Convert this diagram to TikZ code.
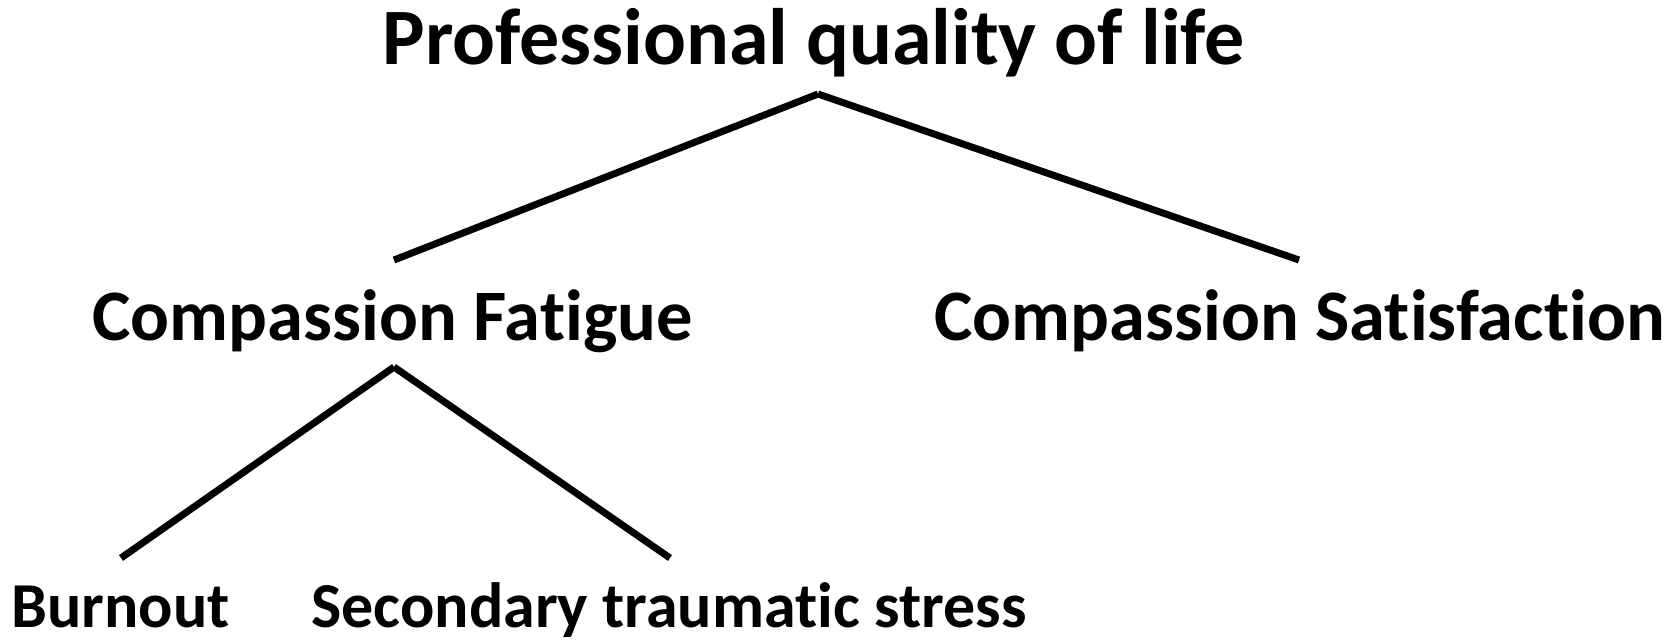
\documentclass[tikz,border=0pt]{standalone}
\usepackage{fontspec}
\setmainfont{Carlito}[Ligatures=NoCommon]
\begin{document}
\begin{tikzpicture}[x=1pt,y=-1pt,
  lbl/.style={inner sep=0pt,anchor=base,font=\bfseries},
  big/.style={lbl,font=\bfseries\fontsize{80}{86}\selectfont},
  mid/.style={lbl,font=\bfseries\fontsize{72.5}{78}\selectfont},
  small/.style={lbl,font=\bfseries\fontsize{64}{70}\selectfont},
  edge/.style={line width=7pt,line cap=butt}]
\useasboundingbox (0,0) rectangle (1675,640);
\node[big] (pq) at (813.5,64) {Professional quality of life};
\node[mid] (cf) at (392.5,340) {Compassion Fatigue};
\node[mid] (cs) at (1299.5,340) {Compassion Satisfaction};
\node[small] (bo) at (120.5,627) {Burnout};
\node[small] (sts) at (669,627) {Secondary traumatic stress};
\coordinate (pqA) at (818,94);
\coordinate (cfT) at (394,260);
\coordinate (csT) at (1299,260);
\coordinate (cfA) at (394,367);
\coordinate (boT) at (121,558);
\coordinate (stsT) at (670,558);
\draw[edge] (pqA) -- (cfT);
\draw[edge] (pqA) -- (csT);
\draw[edge] (cfA) -- (boT);
\draw[edge] (cfA) -- (stsT);
\end{tikzpicture}
\end{document}
